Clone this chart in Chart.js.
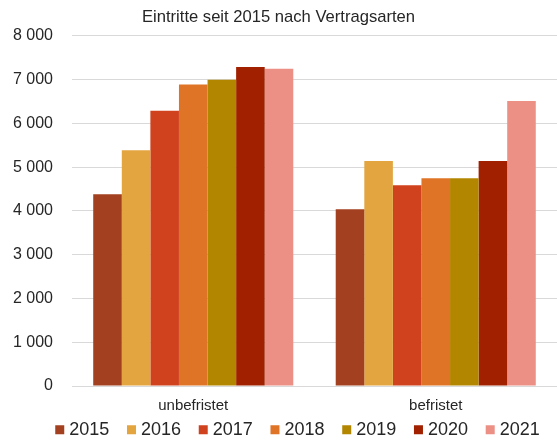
<!DOCTYPE html>
<html>
<head>
<meta charset="utf-8">
<script src="https://cdn.jsdelivr.net/npm/chart.js@4/dist/chart.umd.min.js"></script>
<style>
  html, body { margin: 0; padding: 0; background: #fff; }
  #chart { display: block; }
</style>
</head>
<body>
<canvas id="chart" width="557" height="441"></canvas>
<script>
const categories = ["unbefristet", "befristet"];
const years = ["2015", "2016", "2017", "2018", "2019", "2020", "2021"];
// values per year: [unbefristet, befristet]
const values2015 = [4380, 4040];
const values2016 = [5390, 5140];
const values2017 = [6290, 4590];
const values2018 = [6890, 4750];
const values2019 = [7000, 4750];
const values2020 = [7290, 5140];
const values2021 = [7250, 6510];
const yearColors = ["#a3401f", "#e3a540", "#d0421e", "#e07426", "#b38600", "#a02000", "#ec9086"];

const allValues = [values2015, values2016, values2017, values2018, values2019, values2020, values2021];

const fontFamily = "'Liberation Sans', Arial, sans-serif";
const textColor = "#262626";
const gridColor = "#d9d9d9";

const datasets = years.map((year, i) => ({
  label: year,
  data: allValues[i],
  backgroundColor: yearColors[i],
  borderWidth: 0,
}));

const formatThousands = (v) => String(v).replace(/\B(?=(\d{3})+(?!\d))/g, " ");

// the legend in the original sits a bit right of centre and close under the axis labels
const legendShift = {
  id: "legendShift",
  afterLayout(chart) {
    const lg = chart.legend;
    if (lg) {
      lg.left += 21;
      lg.right += 21;
      lg.top -= 17;
      lg.bottom -= 17;
    }
  },
};

new Chart(document.getElementById("chart"), {
  type: "bar",
  data: { labels: categories, datasets: datasets },
  plugins: [legendShift],
  options: {
    responsive: false,
    animation: false,
    layout: { padding: { left: 0, right: 0, top: 0, bottom: -24.7 } },
    datasets: {
      bar: { categoryPercentage: 0.825, barPercentage: 1.0 },
    },
    plugins: {
      tooltip: { enabled: false },
      title: {
        display: true,
        text: "Eintritte seit 2015 nach Vertragsarten",
        color: textColor,
        font: { family: fontFamily, size: 16.6, weight: "normal" },
        padding: { top: 7, bottom: 9 },
      },
      legend: {
        position: "bottom",
        labels: {
          color: textColor,
          font: { family: fontFamily, size: 18 },
          usePointStyle: true,
          pointStyle: "rect",
          boxWidth: 1,
          boxHeight: 9,
          padding: 21.7,
        },
      },
    },
    scales: {
      x: {
        grid: { display: false },
        border: { color: gridColor, width: 1 },
        ticks: {
          color: textColor,
          font: { family: fontFamily, size: 15 },
          padding: 3,
        },
        afterFit: (scale) => { scale.height = 30; },
      },
      y: {
        min: 0,
        max: 8000,
        ticks: {
          stepSize: 1000,
          color: textColor,
          font: { family: fontFamily, size: 16 },
          padding: 19,
          callback: (v) => formatThousands(v),
        },
        grid: { color: gridColor, drawTicks: false },
        border: { display: false },
        afterFit: (scale) => { scale.width = 72; },
      },
    },
  },
});
</script>
</body>
</html>
